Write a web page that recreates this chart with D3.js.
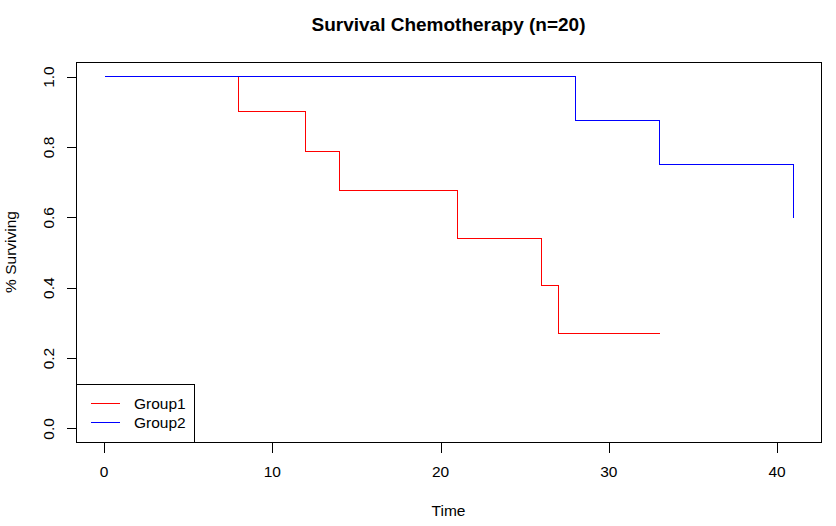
<!DOCTYPE html>
<html>
<head>
<meta charset="utf-8">
<script src="https://cdn.jsdelivr.net/npm/d3@7"></script>
<style>
  body { margin: 0; background: #fff; }
  text { font-family: "Liberation Sans", Arial, sans-serif; fill: #000; }
</style>
</head>
<body>
<script>
// survival estimates
var group1Time = [0, 8, 12, 14, 21, 26, 27, 33],
  group1Surv = [1, 0.9, 0.7875, 0.675, 0.54, 0.405, 0.27, 0.27],
  group2Time = [0, 28, 33, 41],
  group2Surv = [1, 0.875, 0.75, 0.6],
  xTicks = [0, 10, 20, 30, 40],
  yTicks = [0, 0.2, 0.4, 0.6, 0.8, 1.0],
  seriesNames = ["Group1", "Group2"],
  seriesColors = ["#ff0000", "#0000ff"];

var W = 836, H = 526,
  box = { left: 76, right: 821, top: 62, bottom: 442 };

var svg = d3.select("body").append("svg").attr("width", W).attr("height", H);

var x = d3.scaleLinear().domain([-1.64, 42.64]).range([box.left, box.right]),
  y = d3.scaleLinear().domain([-0.04, 1.04]).range([box.bottom, box.top]);

function crisp(v) { return Math.round(v) + 0.5; }

// series
var line = d3.line()
  .x(function (d) { return crisp(x(d[0])); })
  .y(function (d) { return crisp(y(d[1])); })
  .curve(d3.curveStepAfter);

[[group1Time, group1Surv], [group2Time, group2Surv]].forEach(function (s, i) {
  svg.append("path")
    .datum(d3.zip(s[0], s[1]))
    .attr("d", line)
    .attr("fill", "none")
    .attr("stroke", seriesColors[i])
    .attr("stroke-width", 1.2)
    .attr("shape-rendering", "crispEdges");
});

// plot box
svg.append("rect")
  .attr("x", crisp(box.left)).attr("y", crisp(box.top))
  .attr("width", box.right - box.left).attr("height", box.bottom - box.top)
  .attr("fill", "none").attr("stroke", "#000")
  .attr("shape-rendering", "crispEdges");

// x axis
var gx = svg.append("g")
  .attr("transform", "translate(0," + crisp(box.bottom) + ")")
  .call(d3.axisBottom(x).tickValues(xTicks).tickSize(10).tickPadding(0).tickFormat(d3.format("d")));
gx.select(".domain").attr("d", "M" + crisp(x(0)) + ",0H" + crisp(x(40)));
gx.selectAll("line").attr("x1", 0.5).attr("x2", 0.5);
gx.selectAll("text").attr("y", 0).attr("dy", 0)
  .attr("transform", "translate(0,34)")
  .style("font-size", "15.5px").attr("font-family", null);

// y axis
var gy = svg.append("g")
  .attr("transform", "translate(" + crisp(box.left) + ",0)")
  .call(d3.axisLeft(y).tickValues(yTicks).tickSize(10).tickFormat(d3.format(".1f")));
gy.select(".domain").attr("d", "M0," + crisp(y(0)) + "V" + crisp(y(1)));
gy.selectAll("line").attr("y1", 0.5).attr("y2", 0.5);
gy.selectAll("text")
  .attr("x", null).attr("dy", null)
  .attr("transform", "translate(-23,0.5) rotate(-90)")
  .attr("text-anchor", "middle")
  .style("font-size", "15.5px").attr("font-family", null);
svg.selectAll(".domain, .tick line").attr("stroke", "#000").attr("shape-rendering", "crispEdges");

// titles
svg.append("text")
  .attr("x", (box.left + box.right) / 2).attr("y", 31)
  .attr("text-anchor", "middle")
  .style("font-size", "19px").style("font-weight", "bold")
  .text("Survival Chemotherapy (n=20)");
svg.append("text")
  .attr("x", (box.left + box.right) / 2).attr("y", 516)
  .attr("text-anchor", "middle")
  .style("font-size", "15.5px")
  .text("Time");
svg.append("text")
  .attr("transform", "translate(16," + (box.top + box.bottom) / 2 + ") rotate(-90)")
  .attr("text-anchor", "middle")
  .style("font-size", "15.5px")
  .text("% Surviving");

// legend
var lg = svg.append("g");
lg.append("rect")
  .attr("x", crisp(76)).attr("y", crisp(384))
  .attr("width", 118).attr("height", 58)
  .attr("fill", "#fff").attr("stroke", "#000")
  .attr("shape-rendering", "crispEdges");
seriesNames.forEach(function (name, i) {
  var ly = 403 + i * 19;
  lg.append("path")
    .attr("d", "M91," + crisp(ly) + "H120")
    .attr("fill", "none")
    .attr("stroke", seriesColors[i]).attr("stroke-width", 1.2)
    .attr("shape-rendering", "crispEdges");
  lg.append("text")
    .attr("x", 134).attr("y", ly).attr("dy", "0.36em")
    .style("font-size", "15.5px")
    .text(name);
});
</script>
</body>
</html>
